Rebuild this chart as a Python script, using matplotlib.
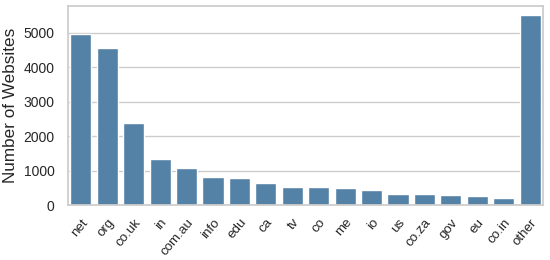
import matplotlib
matplotlib.use("Agg")
import matplotlib.pyplot as plt
import seaborn as sns
import pandas as pd

categories = ["net", "org", "co.uk", "in", "com.au", "info", "edu", "ca", "tv", "co",
              "me", "io", "us", "co.za", "gov", "eu", "co.in", "other"]
counts = [4950, 4560, 2400, 1350, 1095, 835, 785, 650, 543, 533,
          495, 446, 330, 320, 310, 262, 222, 5500]

sns.set_theme(style="whitegrid")
plt.rcParams['font.family'] = ['Liberation Sans', 'DejaVu Sans']

df = pd.DataFrame({"tld": categories, "count": counts})
fig, ax = plt.subplots(figsize=(5.5, 2.6), dpi=100)
sns.barplot(data=df, x="tld", y="count", color="steelblue", ax=ax)
ax.set_xlabel("")
ax.set_ylabel("Number of Websites", fontsize=12.3)
ax.tick_params(axis="y", labelsize=10, colors="#262626")
ax.tick_params(axis="x", labelsize=9.6, colors="#262626", pad=2)
plt.setp(ax.get_xticklabels(), rotation=50, ha="right", rotation_mode="anchor")
fig.subplots_adjust(left=0.123, right=0.988, top=0.977, bottom=0.21)
fig.savefig("out.png")
